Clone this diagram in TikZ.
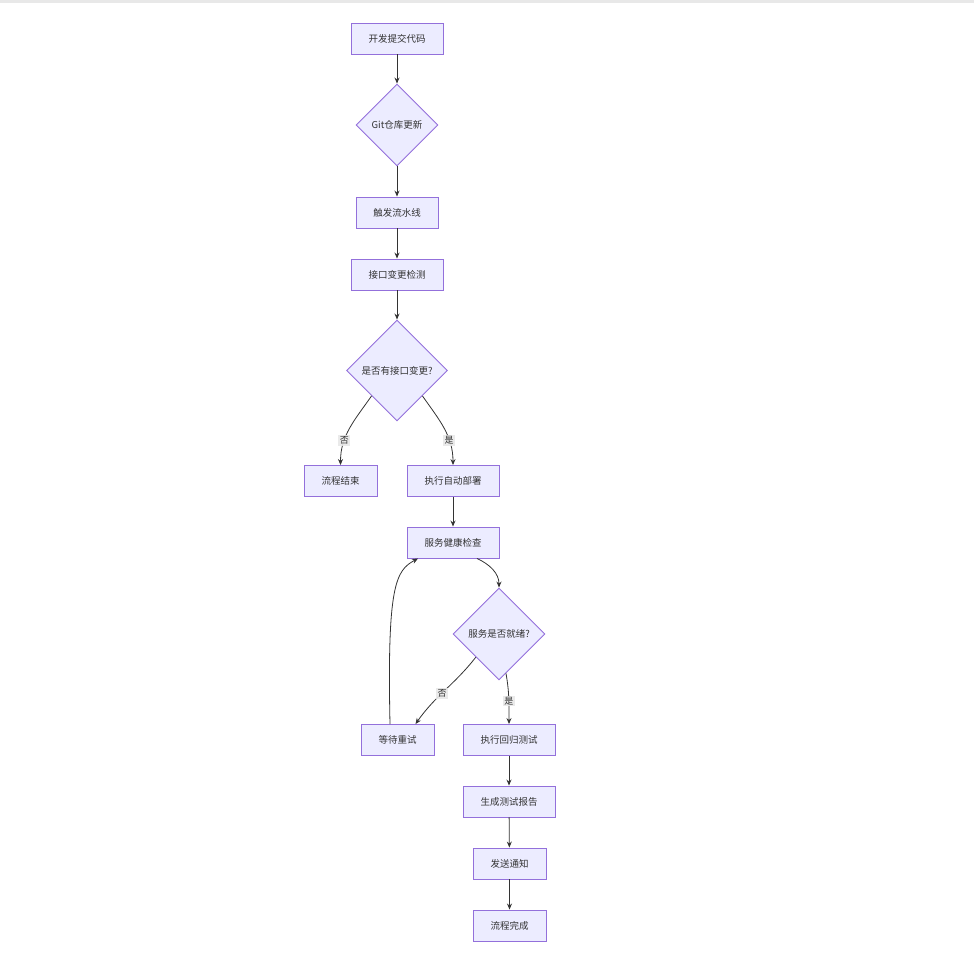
\documentclass[tikz,border=0pt]{standalone}
\usepackage{fontspec}
\setmainfont{Noto Sans CJK SC}
\usetikzlibrary{shapes.geometric,arrows.meta}
\definecolor{boxfill}{HTML}{ECECFF}
\definecolor{boxline}{HTML}{9370DB}
\definecolor{edgeline}{HTML}{333333}
\definecolor{lblfill}{HTML}{E8E8E8}
\begin{document}
\begin{tikzpicture}[
  x=1pt, y=-1pt,
  >={Stealth[length=6pt,width=5pt]},
  flowbox/.style={rectangle, draw=boxline, fill=boxfill, line width=0.9pt, minimum height=31pt, inner sep=0pt, text=edgeline, font={\fontsize{9.5}{11}\selectfont}},
  flowdiam/.style={diamond, aspect=1, draw=boxline, fill=boxfill, line width=0.9pt, inner sep=0pt, text=edgeline, font={\fontsize{9.5}{11}\selectfont}},
  flowedge/.style={->, draw=edgeline, line width=0.8pt},
  flowlbl/.style={fill=lblfill, fill opacity=0.9, text opacity=1, text=edgeline, inner sep=1.5pt, font={\fontsize{9}{10}\selectfont}}
]
\useasboundingbox (0,0) rectangle (974,957);
\fill[gray!18] (0,0) rectangle (974,3);
\node[flowbox, minimum width=92pt] (n1) at (397,38.5) {开发提交代码};
\node[flowdiam, minimum size=82pt] (n2) at (397,125) {Git仓库更新};
\node[flowbox, minimum width=82pt] (n3) at (397,212.5) {触发流水线};
\node[flowbox, minimum width=92pt] (n4) at (397,274.5) {接口变更检测};
\node[flowdiam, minimum size=101pt] (n5) at (397,370.5) {是否有接口变更?};
\node[flowbox, minimum width=73pt] (n6) at (340.5,481) {流程结束};
\node[flowbox, minimum width=92pt] (n7) at (453,481) {执行自动部署};
\node[flowbox, minimum width=92pt] (n8) at (453,542.5) {服务健康检查};
\node[flowdiam, minimum size=92pt] (n9) at (499,634) {服务是否就绪?};
\node[flowbox, minimum width=73pt] (n10) at (397.5,740) {等待重试};
\node[flowbox, minimum width=92pt] (n11) at (509,740) {执行回归测试};
\node[flowbox, minimum width=92pt] (n12) at (509,801.5) {生成测试报告};
\node[flowbox, minimum width=73pt] (n13) at (509.5,863.5) {发送通知};
\node[flowbox, minimum width=73pt] (n14) at (509.5,925.5) {流程完成};
\draw[flowedge] (n1) -- (n2);
\draw[flowedge] (n2) -- (n3);
\draw[flowedge] (n3) -- (n4);
\draw[flowedge] (n4) -- (n5);
\draw[flowedge] (n5.south west) to[out=235,in=90] node[flowlbl, pos=0.68] {否} (n6.north);
\draw[flowedge] (n5.south east) to[out=-55,in=90] node[flowlbl, pos=0.68] {是} (n7.north);
\draw[flowedge] (n7) -- (n8);
\draw[flowedge] ([xshift=24pt]n8.south) to[out=-25,in=90] (n9.north);
\draw[flowedge] (n9.south west) to[out=-128,in=55] node[flowlbl, pos=0.55] {否} ([xshift=18pt]n10.north);
\draw[flowedge] ([xshift=7pt,yshift=7pt]n9.south) to[out=-80,in=90] node[flowlbl, pos=0.55] {是} (n11.north);
\draw[flowedge] ([xshift=-7.5pt]n10.north) .. controls +(-3,-140) and +(-22,12) .. ([xshift=-35pt]n8.south);
\draw[flowedge] (n11) -- (n12);
\draw[flowedge] (n12) -- (n13);
\draw[flowedge] (n13) -- (n14);
\end{tikzpicture}
\end{document}
